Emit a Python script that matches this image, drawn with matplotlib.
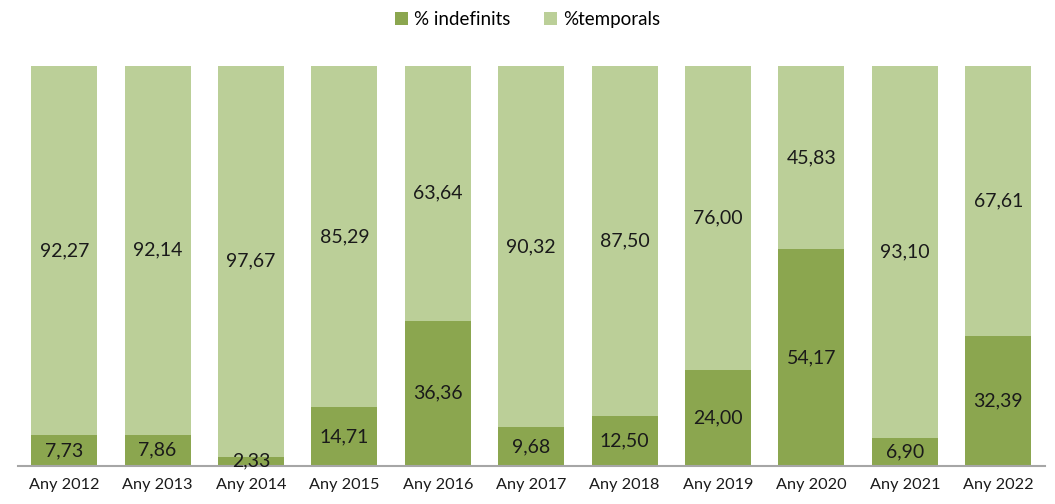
import matplotlib.pyplot as plt
import numpy as np

plt.rcParams['font.family'] = ['Lato', 'DejaVu Sans']

years = ['Any 2012', 'Any 2013', 'Any 2014', 'Any 2015', 'Any 2016', 'Any 2017',
         'Any 2018', 'Any 2019', 'Any 2020', 'Any 2021', 'Any 2022']
indefinits = [7.73, 7.86, 2.33, 14.71, 36.36, 9.68, 12.50, 24.00, 54.17, 6.90, 32.39]
temporals = [92.27, 92.14, 97.67, 85.29, 63.64, 90.32, 87.50, 76.00, 45.83, 93.10, 67.61]

dark = '#8BA64F'
light = '#BBCF98'

fig = plt.figure(figsize=(10.55, 5.04), dpi=100)
ax = fig.add_axes([0.0166, 0.0754, 0.9739, 0.7936])

x = np.arange(len(years))
w = 0.707
ax.bar(x, indefinits, w, color=dark, label='% indefinits')
ax.bar(x, temporals, w, bottom=indefinits, color=light, label='%temporals')

def fmt(v):
    return f'{v:.2f}'.replace('.', ',')

for xi, v in zip(x, indefinits):
    ax.text(xi, v / 2, fmt(v), ha='center', va='center', fontsize=14, color='#1a1a1a')
for xi, v, b in zip(x, temporals, indefinits):
    ax.text(xi, b + v / 2, fmt(v), ha='center', va='center', fontsize=14, color='#1a1a1a')

ax.set_xlim(-0.5, len(years) - 0.5)
ax.set_ylim(0, 100)
ax.set_xticks(x)
ax.set_xticklabels(years, fontsize=11.7, color='#1a1a1a')
ax.tick_params(axis='x', length=0, pad=9)
ax.set_yticks([])
for s in ['top', 'right', 'left']:
    ax.spines[s].set_visible(False)
ax.spines['bottom'].set_color('#A6A6A6')
ax.spines['bottom'].set_linewidth(1.5)

fig.legend(loc='upper center', bbox_to_anchor=(0.5, 1.012), ncol=2, frameon=False,
           fontsize=13.5, handlelength=0.7, handleheight=0.7, handletextpad=0.3,
           columnspacing=1.8)

fig.savefig('out.png', dpi=100)
